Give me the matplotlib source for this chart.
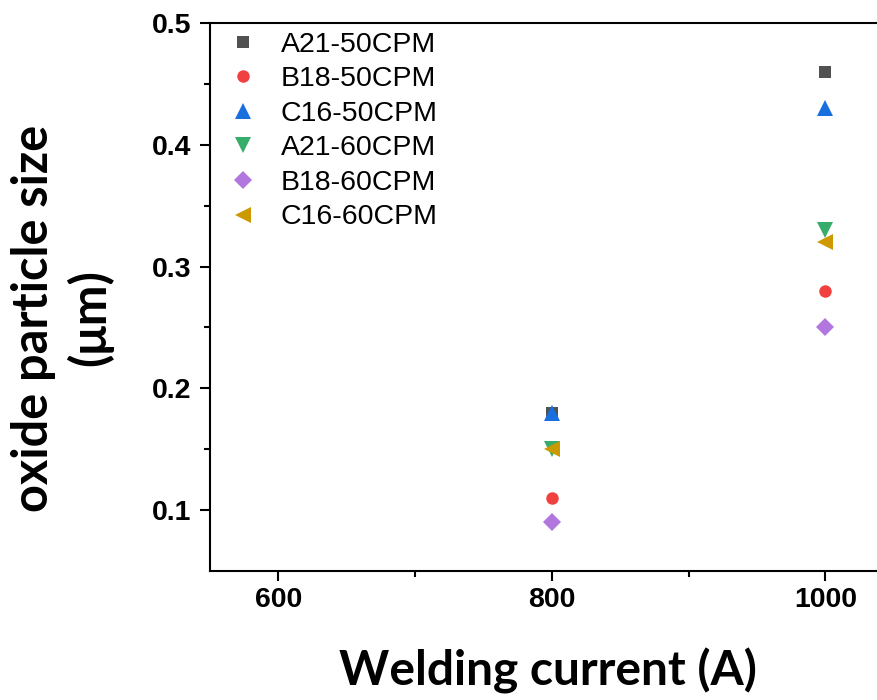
import matplotlib
matplotlib.use("Agg")
import matplotlib.pyplot as plt

# welding current (A) and oxide particle size (um) per sample
current = [800, 1000]
a21_50 = [0.18, 0.46]
b18_50 = [0.11, 0.28]
c16_50 = [0.18, 0.43]
a21_60 = [0.15, 0.33]
b18_60 = [0.09, 0.25]
c16_60 = [0.15, 0.32]

series = [
    ("A21-50CPM", a21_50, "s", "#515151", 8),
    ("B18-50CPM", b18_50, "o", "#F14040", 9),
    ("C16-50CPM", c16_50, "^", "#1A6FDF", 11.5),
    ("A21-60CPM", a21_60, "v", "#37AD6B", 11.5),
    ("B18-60CPM", b18_60, "D", "#B177DE", 9.5),
    ("C16-60CPM", c16_60, "<", "#CC9900", 11.5),
]

fig = plt.figure(figsize=(8.77, 7.0), dpi=100)
# the right spine sits just past the figure edge
ax = fig.add_axes([210 / 877, 129 / 700, 683.75 / 877, 548 / 700])

for name, vals, mk, col, ms in series:
    ax.plot(current, vals, linestyle="none", marker=mk, color=col,
            markersize=ms, markeredgewidth=0, label=name)

ax.set_xlim(550, 1050)
ax.set_ylim(0.05, 0.5)
ax.set_xticks([600, 800, 1000])
ax.set_xticks([700, 900], minor=True)
ax.set_yticks([0.1, 0.2, 0.3, 0.4, 0.5])
ax.set_yticks([0.15, 0.25, 0.35, 0.45], minor=True)
ax.set_yticklabels(["0.1", "0.2", "0.3", "0.4", "0.5"])

for s in ax.spines.values():
    s.set_linewidth(1.5)
ax.tick_params(which="major", direction="out", length=7.5, width=1.5, pad=4)
ax.tick_params(axis="y", which="major", pad=6)
ax.tick_params(which="minor", direction="out", length=4, width=1.5)
for lab in ax.get_xticklabels() + ax.get_yticklabels():
    lab.set_fontfamily("Liberation Sans")
    lab.set_fontweight("bold")
    lab.set_fontsize(20.5)

ax.set_xlabel("Welding current (A)", fontfamily="Lato", fontweight="bold",
              fontsize=34.5)
ax.xaxis.set_label_coords((548 - 210) / 683.75, -0.14)
ax.set_ylabel("oxide particle size\n(\u03bcm)", fontfamily="Lato",
              fontweight="bold", fontsize=35, linespacing=1.25,
              ha="center")
ax.yaxis.set_label_coords(-0.142, (571 - 318) / 548)

ax.legend(loc="upper left", bbox_to_anchor=(0.0273, 0.984), frameon=False,
          prop={"family": "Liberation Sans", "size": 20.5},
          borderpad=0, borderaxespad=0, handlelength=1.0,
          handletextpad=0.83, labelspacing=0.3)

fig.savefig("out.png", dpi=100)
